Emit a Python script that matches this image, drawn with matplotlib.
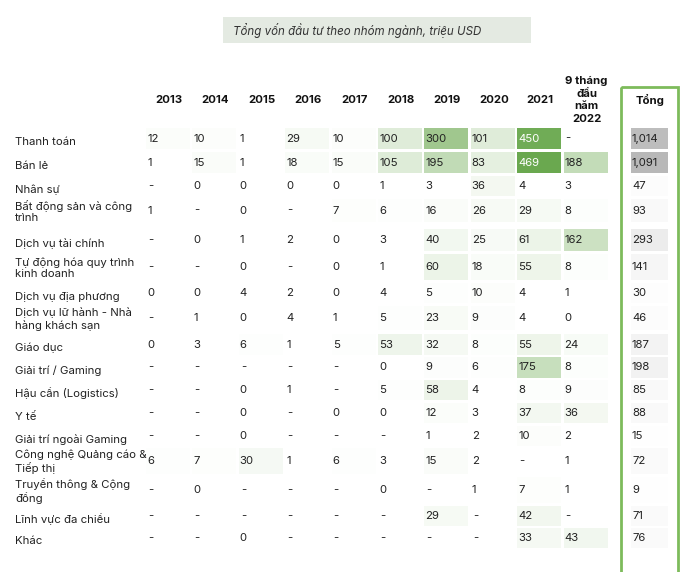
import numpy as np
import matplotlib.pyplot as plt
from matplotlib.patches import Rectangle

plt.rcParams['font.family'] = ['Inter', 'DejaVu Sans']

# DATA
title = "Tổng vốn đầu tư theo nhóm ngành, triệu USD"
years = ["2013", "2014", "2015", "2016", "2017", "2018", "2019", "2020", "2021",
         "9 tháng\nđầu\nnăm\n2022"]
total_label = "Tổng"

sectors = ["Thanh toán", "Bán lẻ", "Nhân sự", "Bất động sản và công\ntrình",
           "Dịch vụ tài chính", "Tự động hóa quy trình\nkinh doanh",
           "Dịch vụ địa phương", "Dịch vụ lữ hành - Nhà\nhàng khách sạn",
           "Giáo dục", "Giải trí / Gaming", "Hậu cần (Logistics)", "Y tế",
           "Giải trí ngoài Gaming", "Công nghệ Quảng cáo &\nTiếp thị",
           "Truyền thông & Cộng\nđồng", "Lĩnh vực đa chiều", "Khác"]

N = None
values = [
    [12, 10, 1, 29, 10, 100, 300, 101, 450, N],
    [1, 15, 1, 18, 15, 105, 195, 83, 469, 188],
    [N, 0, 0, 0, 0, 1, 3, 36, 4, 3],
    [1, N, 0, N, 7, 6, 16, 26, 29, 8],
    [N, 0, 1, 2, 0, 3, 40, 25, 61, 162],
    [N, N, 0, N, 0, 1, 60, 18, 55, 8],
    [0, 0, 4, 2, 0, 4, 5, 10, 4, 1],
    [N, 1, 0, 4, 1, 5, 23, 9, 4, 0],
    [0, 3, 6, 1, 5, 53, 32, 8, 55, 24],
    [N, N, N, N, N, 0, 9, 6, 175, 8],
    [N, N, 0, 1, N, 5, 58, 4, 8, 9],
    [N, N, 0, N, 0, 0, 12, 3, 37, 36],
    [N, N, 0, N, N, N, 1, 2, 10, 2],
    [6, 7, 30, 1, 6, 3, 15, 2, N, 1],
    [N, 0, N, N, N, 0, N, 1, 7, 1],
    [N, N, N, N, N, N, 29, N, 42, N],
    [N, N, 0, N, N, N, N, N, 33, 43],
]
totals = [1014, 1091, 47, 93, 293, 141, 30, 46, 187, 198, 85, 88, 15, 72, 9, 71, 76]

# layout (pixels)
row_top = [128, 152, 176, 199, 229, 254, 283, 306, 334, 357, 380, 403, 426, 448, 477, 506, 528]
row_bot = [149, 173, 196, 222, 251, 280, 303, 330, 355, 378, 400, 423, 446, 474, 503, 526, 548]
col_x0, col_step, cell_w = 147, 46.4, 44
tot_x0, tot_w = 632, 37
header_y = 100
fs = 8.2

green = np.array([106, 168, 79]) / 255
grey = np.array([184, 184, 184]) / 255
white = np.ones(3)
vmax = max(v for r in values for v in r if v is not None)
tmax = max(totals)

fig = plt.figure(figsize=(7, 5.72), dpi=100)
ax = fig.add_axes([0, 0, 1, 1])
ax.set_xlim(0, 700)
ax.set_ylim(572, 0)
ax.axis('off')

# title box
ax.add_patch(Rectangle((223, 17), 308, 26, fc='#e4eae2', ec='none'))
ax.text(233, 30.5, title, fontsize=8.3, style='italic', color='#333333',
        va='center', ha='left')

# headers
for j, y in enumerate(years):
    ax.text(col_x0 + j * col_step + cell_w / 2, header_y, y, fontsize=fs,
            fontweight='bold', ha='center', va='center', color='#111111',
            linespacing=1.3)
ax.text(tot_x0 + tot_w / 2, header_y, total_label, fontsize=fs,
        fontweight='bold', ha='center', va='center', color='#111111')

# green frame round totals
ax.add_patch(Rectangle((621, 87), 57, 500, fill=False, ec='#7dbb5b', lw=2))

for i, name in enumerate(sectors):
    t, b = row_top[i], row_bot[i]
    yc = (t + b) / 2
    off = 1 if "\n" in name else 3.5
    ax.text(15, yc + off, name, fontsize=fs, ha='left', va='center',
            color='#222222', linespacing=1.15)
    for j, v in enumerate(values[i]):
        x = col_x0 + j * col_step
        if v is None:
            ax.text(x + 1, yc, "-", fontsize=fs, ha='left', va='center', color='#222222')
            continue
        frac = v / vmax
        c = white + frac * (green - white)
        if frac > 0.01:
            ax.add_patch(Rectangle((x - 1, t), cell_w, b - t, fc=c, ec='none'))
        tc = 'white' if frac > 0.8 else '#222222'
        ax.text(x, yc, str(v), fontsize=fs, ha='left', va='center', color=tc)
    tv = totals[i]
    frac = tv / tmax
    c = white + frac * (grey - white)
    ax.add_patch(Rectangle((tot_x0 - 1, t), tot_w, b - t, fc=c, ec='none'))
    ax.text(tot_x0, yc, f"{tv:,}", fontsize=fs, ha='left', va='center', color='#222222')

fig.savefig("out.png", dpi=100)
